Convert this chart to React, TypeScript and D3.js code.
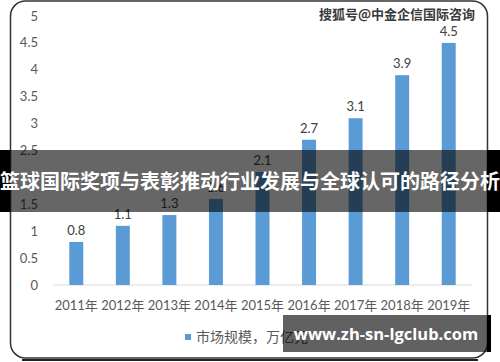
import React from "react";
import * as d3 from "d3";

const years = ["2011年", "2012年", "2013年", "2014年", "2015年", "2016年", "2017年", "2018年", "2019年"];
const values = [0.8, 1.1, 1.3, 1.6, 2.1, 2.7, 3.1, 3.9, 4.5];
const legendLabel = "市场规模，万亿元";
const bannerText = "篮球国际奖项与表彰推动行业发展与全球认可的路径分析";
const watermark = "搜狐号@中金企信国际咨询";
const siteText = "www.zh-sn-lgclub.com";

const W = 500;
const H = 362;
const NUM_FONT = "Lato, 'Noto Sans CJK SC', sans-serif";
const CJK_FONT = "'Noto Sans CJK SC', sans-serif";

export default function App() {
  const x = d3
    .scaleBand<string>()
    .domain(years)
    .range([53, 472])
    .paddingInner(0.7)
    .paddingOuter(0.35);

  const y = d3.scaleLinear().domain([0, 5]).range([285, 16]);
  const ticks = y.ticks(10);
  const fmt = d3.format("");

  return (
    <svg
      width={W}
      height={H}
      style={{ position: "absolute", left: 0, top: 0, background: "#fff" }}
    >
      {/* card border, small shadow under it */}
      <path d="M 22 360 L 478 360" stroke="#222" strokeWidth={2} fill="none" />
      <rect
        x={10.5}
        y={1}
        width={477}
        height={357}
        rx={15}
        fill="#fff"
        stroke="#333"
        strokeWidth={1.5}
      />

      {/* y axis labels */}
      <g fontFamily={NUM_FONT} fontSize={13} fill="#595959" textAnchor="end">
        {ticks.map((t) => (
          <text key={t} x={38} y={y(t)} dy="0.35em">
            {fmt(t)}
          </text>
        ))}
      </g>

      <line x1={53} x2={472} y1={y(0)} y2={y(0)} stroke="#d9d9d9" strokeWidth={1} />

      {/* bars */}
      <g>
        {values.map((v, i) => (
          <rect
            key={years[i]}
            x={x(years[i])}
            y={y(v)}
            width={x.bandwidth()}
            height={y(0) - y(v)}
            fill="#5B9BD5"
          />
        ))}
      </g>

      {/* value labels */}
      <g fontFamily={NUM_FONT} fontSize={13} fill="#404040" textAnchor="middle">
        {values.map((v, i) => (
          <text key={years[i]} x={(x(years[i]) ?? 0) + x.bandwidth() / 2} y={y(v) - 7}>
            {v.toFixed(1)}
          </text>
        ))}
      </g>

      {/* x labels */}
      <g fontFamily={NUM_FONT} fontSize={13} fill="#595959" textAnchor="middle">
        {years.map((yr) => (
          <text key={yr} x={(x(yr) ?? 0) + x.bandwidth() / 2} y={305} dy="0.35em">
            {yr}
          </text>
        ))}
      </g>

      {/* legend */}
      <rect x={185} y={334} width={6} height={6} fill="#5B9BD5" />
      <text x={196} y={337} dy="0.35em" fontFamily={CJK_FONT} fontSize={14} fill="#595959">
        {legendLabel}
      </text>

      {/* watermark */}
      <text
        x={475}
        y={14}
        dy="0.35em"
        textAnchor="end"
        fontFamily={CJK_FONT}
        fontSize={13}
        fontWeight="bold"
        fill="#3a3a3a"
        stroke="#fff"
        strokeWidth={0.6}
        paintOrder="stroke"
      >
        {watermark}
      </text>

      {/* banner overlay */}
      <rect x={0} y={150} width={W} height={62} fill="rgba(0,0,0,0.6)" />
      <rect x={0} y={150} width={10} height={62} fill="#000" />
      <rect x={487} y={150} width={13} height={62} fill="#000" />
      <text
        x={W / 2}
        y={182}
        dy="0.35em"
        textAnchor="middle"
        fontFamily={CJK_FONT}
        fontSize={20}
        fontWeight="bold"
        fill="#fff"
      >
        {bannerText}
      </text>

      {/* site box */}
      <rect x={283} y={315} width={204} height={37} fill="rgba(0,0,0,0.62)" />
      <rect x={487} y={315} width={4} height={37} fill="#000" />
      <text
        x={386}
        y={334}
        dy="0.35em"
        textAnchor="middle"
        fontFamily="'Open Sans', 'Noto Sans', sans-serif"
        fontSize={16.5}
        fontWeight="bold"
        fill="#fff"
      >
        {siteText}
      </text>
    </svg>
  );
}
